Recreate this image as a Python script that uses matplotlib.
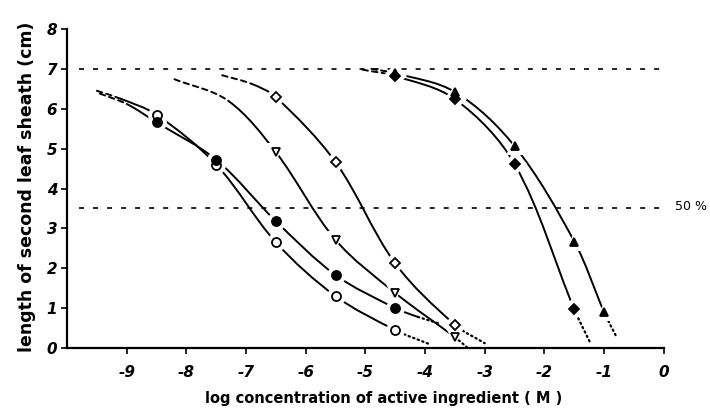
import numpy as np
import matplotlib
matplotlib.use('Agg')
import matplotlib.pyplot as plt
from matplotlib.path import Path
from matplotlib.patches import PathPatch

plt.rcParams['font.family'] = ['DejaVu Sans']
plt.rcParams['axes.unicode_minus'] = False
plt.rcParams['lines.scale_dashes'] = False

# ---- data (log M, cm) ----
control_height = 7.0          # untreated plants
half_height = 3.5             # 50 % inhibition

circle_open_x = [-8.5, -7.5, -6.5, -5.5, -4.5]
circle_open_y = [5.85, 4.60, 2.65, 1.30, 0.45]
circle_fill_x = [-8.5, -7.5, -6.5, -5.5, -4.5]
circle_fill_y = [5.66, 4.72, 3.18, 1.83, 1.00]
tri_open_x = [-6.5, -5.5, -4.5, -3.5]
tri_open_y = [4.91, 2.71, 1.38, 0.27]
diam_open_x = [-6.5, -5.5, -4.5, -3.5]
diam_open_y = [6.29, 4.66, 2.12, 0.58]
diam_fill_x = [-4.5, -3.5, -2.5, -1.5]
diam_fill_y = [6.82, 6.24, 4.61, 0.97]
tri_fill_x = [-4.5, -3.5, -2.5, -1.5, -1.0]
tri_fill_y = [6.89, 6.42, 5.06, 2.67, 0.90]

# where the drawn curves start / end beyond the measured points
circle_open_head = [(-9.5, 6.45), (-9.1, 6.25)]
circle_open_tail = [(-3.9, 0.08)]
circle_fill_head = [(-9.45, 6.38), (-9.0, 6.12)]
circle_fill_tail = [(-4.12, 0.78), (-3.77, 0.62)]
tri_open_head = [(-8.2, 6.74), (-7.3, 6.2)]
tri_open_tail = [(-3.3, 0.02)]
diam_open_head = [(-7.4, 6.84), (-6.9, 6.62)]
diam_open_tail = [(-3.0, 0.12)]
diam_fill_head = [(-5.05, 6.98)]
diam_fill_tail = [(-1.24, 0.15)]
tri_fill_head = [(-4.9, 7.0)]
tri_fill_tail = [(-0.79, 0.27)]

x_ticks = [-9, -8, -7, -6, -5, -4, -3, -2, -1, 0]
y_ticks = [0, 1, 2, 3, 4, 5, 6, 7, 8]

# ---- figure ----
fig = plt.figure(figsize=(7.1, 4.12), dpi=100)
ax = fig.add_axes([0.0944, 0.1553, 0.891, 0.784])
ax.set_xlim(-10, 0.6)
ax.set_ylim(0, 8.1)

for s in ['top', 'right']:
    ax.spines[s].set_visible(False)
ax.spines['left'].set_bounds(0, 8)
ax.spines['bottom'].set_bounds(-10, 0)
ax.spines['left'].set_linewidth(1.6)
ax.spines['bottom'].set_linewidth(1.6)

ax.set_xticks(x_ticks)
ax.set_xticklabels([str(t) for t in x_ticks])
ax.set_yticks(y_ticks)
ax.tick_params(direction='out', length=4, width=1.2, labelsize=11)
for lab in ax.get_xticklabels() + ax.get_yticklabels():
    lab.set_fontstyle('italic')
    lab.set_fontweight('bold')
ax.tick_params(axis='x', pad=8)
ax.tick_params(axis='y', pad=3)

ax.set_xlabel('log concentration of active ingredient ( M )',
              fontsize=10.5, fontweight='bold', labelpad=8)
ax.set_ylabel('length of second leaf sheath (cm)',
              fontsize=12.5, fontweight='bold', labelpad=8)

# reference lines
ref_dash = (0, (3.6, 6.5))
ax.plot([-9.8, 0.0], [control_height, control_height], color='black',
        lw=1.2, ls=ref_dash, zorder=1)
ax.plot([-9.8, 0.05], [half_height, half_height], color='black',
        lw=1.2, ls=ref_dash, zorder=1)
ax.text(0.18, half_height + 0.05, '50 %', fontsize=9, va='center',
        ha='left')

styles = {'s': '-', 'd': (0, (4, 3)), 'o': (0, (1, 2.5))}


def smooth_segments(xs, ys):
    pts = ax.transData.transform(np.column_stack([xs, ys]))
    n = len(pts)
    tan = np.zeros_like(pts)
    for i in range(n):
        d = pts[min(i + 1, n - 1)] - pts[max(i - 1, 0)]
        tan[i] = d / np.hypot(*d)
    inv = ax.transData.inverted()
    segs = []
    for i in range(n - 1):
        p0, p3 = pts[i], pts[i + 1]
        L = np.hypot(*(p3 - p0))
        p1 = p0 + tan[i] * L / 3
        p2 = p3 - tan[i + 1] * L / 3
        segs.append(inv.transform(np.array([p0, p1, p2, p3])))
    return segs


def draw_series(x, y, head, tail, seg_styles, marker, filled, ms):
    xs = [p[0] for p in head] + list(x) + [p[0] for p in tail]
    ys = [p[1] for p in head] + list(y) + [p[1] for p in tail]
    codes = [Path.MOVETO, Path.CURVE4, Path.CURVE4, Path.CURVE4]
    for seg, st in zip(smooth_segments(xs, ys), seg_styles):
        ax.add_patch(PathPatch(Path(seg, codes), fill=False, ec='black',
                               lw=1.4 if st != 'o' else 1.6,
                               ls=styles[st], capstyle='round', zorder=2))
    # white halo leaves a gap in the line around each point
    ax.plot(x, y, ls='none', marker=marker, ms=ms + 7, mfc='white',
            mec='white', mew=0, zorder=3)
    ax.plot(x, y, ls='none', marker=marker, ms=ms,
            mfc='black' if filled else 'white', mec='black', mew=1.3,
            zorder=4)


draw_series(circle_open_x, circle_open_y, circle_open_head, circle_open_tail,
            'dssssso', 'o', False, 6.5)
draw_series(circle_fill_x, circle_fill_y, circle_fill_head, circle_fill_tail,
            'dsssssso', 'o', True, 6.5)
draw_series(tri_open_x, tri_open_y, tri_open_head, tri_open_tail,
            'dsssso', 'v', False, 6)
draw_series(diam_open_x, diam_open_y, diam_open_head, diam_open_tail,
            'dsssso', 'D', False, 5.5)
draw_series(diam_fill_x, diam_fill_y, diam_fill_head, diam_fill_tail,
            'dssso', 'D', True, 5.5)
draw_series(tri_fill_x, tri_fill_y, tri_fill_head, tri_fill_tail,
            'dsssso', '^', True, 6)

fig.savefig('out.png', dpi=100)
